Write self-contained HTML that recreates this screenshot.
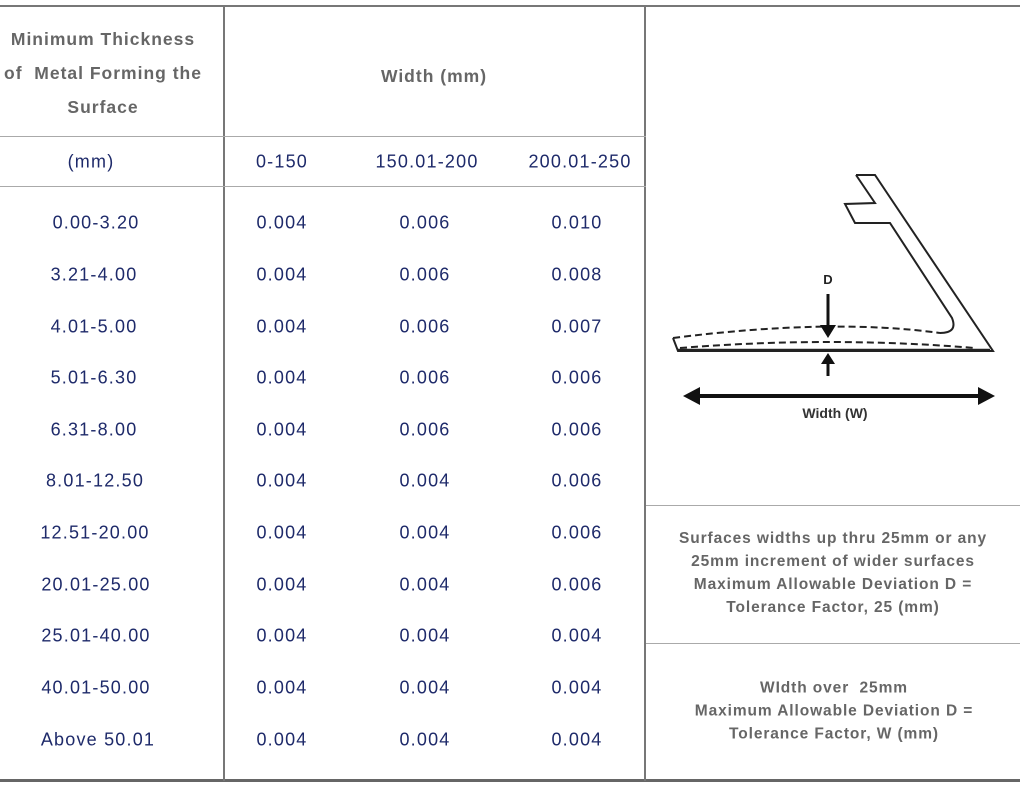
<!DOCTYPE html>
<html><head><meta charset="utf-8"><style>
body{margin:0;width:1020px;height:786px;background:#fff;position:relative;overflow:hidden;font-family:"Liberation Sans",sans-serif}
.l{position:absolute;background:#999}
.t{position:absolute;text-align:center;transform:translate(-50%,-50%);white-space:nowrap}
.b{color:#1e2a6a;font-size:18px;letter-spacing:1.2px}
.h{color:#666;font-size:17.5px;font-weight:bold;line-height:34px;letter-spacing:1px}
.r{color:#666;font-size:15.5px;font-weight:bold;line-height:23px;letter-spacing:0.9px}
</style></head><body>
<div class="l" style="left:0;top:5px;width:1020px;height:2px;background:#777"></div>
<div class="l" style="left:0;top:779px;width:1020px;height:3px;background:#666"></div>
<div class="l" style="left:223px;top:6px;width:2px;height:775px;background:#777"></div>
<div class="l" style="left:644px;top:6px;width:2px;height:775px;background:#777"></div>
<div class="l" style="left:0;top:136px;width:646px;height:1px;background:#aaa"></div>
<div class="l" style="left:0;top:186px;width:646px;height:1px;background:#aaa"></div>
<div class="l" style="left:646px;top:505px;width:374px;height:1px;background:#aaa"></div>
<div class="l" style="left:646px;top:643px;width:374px;height:1px;background:#aaa"></div>

<div class="t h" style="left:103px;top:73px">Minimum Thickness<br>of&nbsp; Metal Forming the<br>Surface</div>
<div class="t h" style="left:434px;top:76px">Width (mm)</div>
<div class="t b" style="left:91px;top:162px">(mm)</div>
<div class="t b" style="left:282px;top:162px">0-150</div>
<div class="t b" style="left:427px;top:162px">150.01-200</div>
<div class="t b" style="left:580px;top:162px">200.01-250</div>

<div class="t b" style="left:96px;top:223px">0.00-3.20</div>
<div class="t b" style="left:94px;top:275px">3.21-4.00</div>
<div class="t b" style="left:94px;top:327px">4.01-5.00</div>
<div class="t b" style="left:94px;top:378px">5.01-6.30</div>
<div class="t b" style="left:94px;top:430px">6.31-8.00</div>
<div class="t b" style="left:95px;top:481px">8.01-12.50</div>
<div class="t b" style="left:95px;top:533px">12.51-20.00</div>
<div class="t b" style="left:96px;top:585px">20.01-25.00</div>
<div class="t b" style="left:96px;top:636px">25.01-40.00</div>
<div class="t b" style="left:96px;top:688px">40.01-50.00</div>
<div class="t b" style="left:98px;top:740px">Above 50.01</div>

<div class="t b" style="left:282px;top:223px">0.004</div><div class="t b" style="left:425px;top:223px">0.006</div><div class="t b" style="left:577px;top:223px">0.010</div>
<div class="t b" style="left:282px;top:275px">0.004</div><div class="t b" style="left:425px;top:275px">0.006</div><div class="t b" style="left:577px;top:275px">0.008</div>
<div class="t b" style="left:282px;top:327px">0.004</div><div class="t b" style="left:425px;top:327px">0.006</div><div class="t b" style="left:577px;top:327px">0.007</div>
<div class="t b" style="left:282px;top:378px">0.004</div><div class="t b" style="left:425px;top:378px">0.006</div><div class="t b" style="left:577px;top:378px">0.006</div>
<div class="t b" style="left:282px;top:430px">0.004</div><div class="t b" style="left:425px;top:430px">0.006</div><div class="t b" style="left:577px;top:430px">0.006</div>
<div class="t b" style="left:282px;top:481px">0.004</div><div class="t b" style="left:425px;top:481px">0.004</div><div class="t b" style="left:577px;top:481px">0.006</div>
<div class="t b" style="left:282px;top:533px">0.004</div><div class="t b" style="left:425px;top:533px">0.004</div><div class="t b" style="left:577px;top:533px">0.006</div>
<div class="t b" style="left:282px;top:585px">0.004</div><div class="t b" style="left:425px;top:585px">0.004</div><div class="t b" style="left:577px;top:585px">0.006</div>
<div class="t b" style="left:282px;top:636px">0.004</div><div class="t b" style="left:425px;top:636px">0.004</div><div class="t b" style="left:577px;top:636px">0.004</div>
<div class="t b" style="left:282px;top:688px">0.004</div><div class="t b" style="left:425px;top:688px">0.004</div><div class="t b" style="left:577px;top:688px">0.004</div>
<div class="t b" style="left:282px;top:740px">0.004</div><div class="t b" style="left:425px;top:740px">0.004</div><div class="t b" style="left:577px;top:740px">0.004</div>

<div class="t r" style="left:833px;top:573px">Surfaces widths up thru 25mm or any<br>25mm increment of wider surfaces<br>Maximum Allowable Deviation D =<br>Tolerance Factor, 25 (mm)</div>
<div class="t r" style="left:834px;top:711px">WIdth over&nbsp; 25mm<br>Maximum Allowable Deviation D =<br>Tolerance Factor, W (mm)</div>

<svg style="position:absolute;left:0;top:0" width="1020" height="786">
<g fill="none" stroke="#222" stroke-width="2">
<path d="M856,175 L875,175 L993,351 L678,351 L673,338"/>
<path d="M856,175 L875,203 L845,204 L855,223 L890,223 L952,318 Q958,333 940,333"/>
<path d="M673,338 Q830,318 940,333" stroke-dasharray="7,4"/>
<path d="M680,348 Q830,336 975,348" stroke-dasharray="7,4"/>
<line x1="678" y1="350" x2="990" y2="350" stroke-width="2.5"/>
</g>
<text x="828" y="284" font-family="Liberation Sans" font-weight="bold" font-size="13" text-anchor="middle" fill="#222">D</text>
<line x1="828" y1="294" x2="828" y2="327" stroke="#111" stroke-width="3"/>
<polygon points="820,325 836,325 828,338" fill="#111"/>
<line x1="828" y1="362" x2="828" y2="376" stroke="#111" stroke-width="3"/>
<polygon points="821,364 835,364 828,353" fill="#111"/>
<line x1="695" y1="396" x2="982" y2="396" stroke="#111" stroke-width="4"/>
<polygon points="683,396 700,387 700,405" fill="#111"/>
<polygon points="995,396 978,387 978,405" fill="#111"/>
<text x="835" y="418" font-family="Liberation Sans" font-weight="bold" font-size="14" text-anchor="middle" fill="#333">Width (W)</text>
</svg>
</body></html>
